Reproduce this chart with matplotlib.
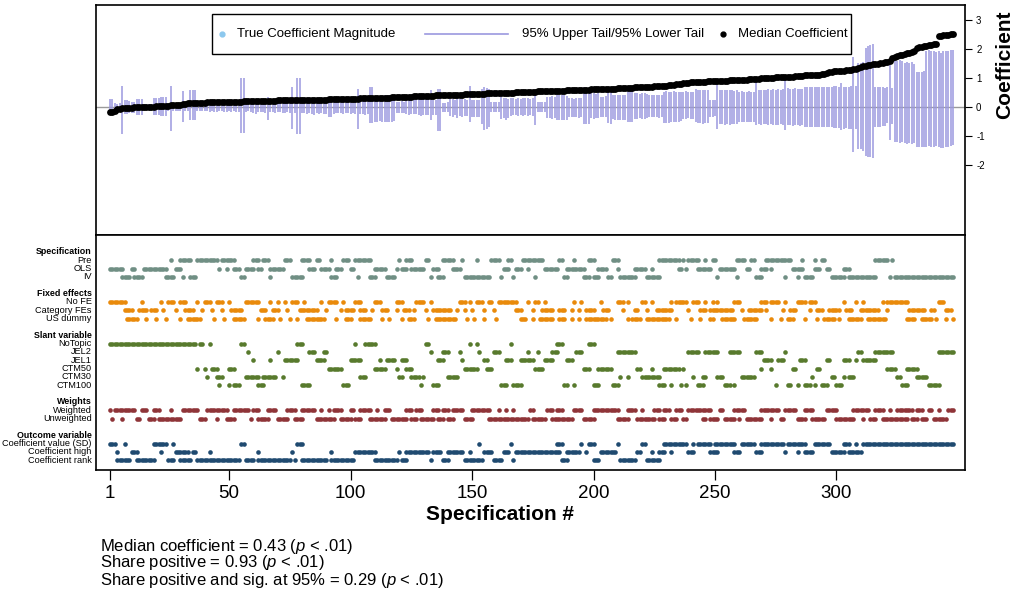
import matplotlib
matplotlib.use("Agg")
import matplotlib.pyplot as plt
import numpy as np
from matplotlib.patches import Rectangle
from matplotlib.lines import Line2D

plt.rcParams['font.family'] = ['Liberation Sans', 'DejaVu Sans']
plt.rcParams['mathtext.fontset'] = 'custom'
plt.rcParams['mathtext.rm'] = 'Liberation Sans'
plt.rcParams['mathtext.it'] = 'Liberation Sans:italic'
plt.rcParams['axes.unicode_minus'] = False

# median coefficient per specification (sorted)
median = [
    -0.17, -0.16, -0.12, -0.08, -0.05, -0.04, -0.03, -0.03, -0.02, -0.02,
    -0.01, -0.01, 0.00, 0.00, 0.01, 0.01, 0.02, 0.02, 0.02, 0.03,
    0.03, 0.04, 0.04, 0.05, 0.05, 0.06, 0.06, 0.07, 0.07, 0.08,
    0.10, 0.12, 0.13, 0.13, 0.14, 0.14, 0.14, 0.15, 0.15, 0.15,
    0.16, 0.16, 0.16, 0.17, 0.17, 0.17, 0.17, 0.18, 0.18, 0.18,
    0.18, 0.19, 0.19, 0.19, 0.19, 0.20, 0.20, 0.20, 0.20, 0.21,
    0.21, 0.21, 0.21, 0.21, 0.22, 0.22, 0.22, 0.22, 0.22, 0.23,
    0.23, 0.23, 0.23, 0.23, 0.23, 0.24, 0.24, 0.24, 0.24, 0.24,
    0.25, 0.25, 0.25, 0.25, 0.25, 0.26, 0.26, 0.26, 0.26, 0.26,
    0.27, 0.27, 0.27, 0.27, 0.27, 0.28, 0.28, 0.28, 0.28, 0.28,
    0.29, 0.29, 0.29, 0.30, 0.30, 0.30, 0.31, 0.31, 0.31, 0.31,
    0.32, 0.32, 0.32, 0.33, 0.33, 0.33, 0.34, 0.34, 0.34, 0.35,
    0.35, 0.35, 0.36, 0.36, 0.36, 0.37, 0.37, 0.37, 0.38, 0.38,
    0.38, 0.39, 0.39, 0.39, 0.40, 0.40, 0.40, 0.41, 0.41, 0.41,
    0.42, 0.42, 0.42, 0.43, 0.43, 0.43, 0.44, 0.44, 0.44, 0.45,
    0.45, 0.45, 0.46, 0.46, 0.46, 0.47, 0.47, 0.47, 0.48, 0.48,
    0.48, 0.49, 0.49, 0.49, 0.50, 0.50, 0.50, 0.51, 0.51, 0.51,
    0.52, 0.52, 0.52, 0.53, 0.53, 0.53, 0.54, 0.54, 0.54, 0.55,
    0.55, 0.55, 0.56, 0.56, 0.56, 0.57, 0.57, 0.57, 0.58, 0.58,
    0.58, 0.58, 0.59, 0.59, 0.59, 0.59, 0.60, 0.60, 0.61, 0.61,
    0.61, 0.62, 0.62, 0.62, 0.63, 0.63, 0.64, 0.64, 0.64, 0.65,
    0.65, 0.65, 0.66, 0.66, 0.67, 0.67, 0.68, 0.68, 0.69, 0.69,
    0.70, 0.70, 0.71, 0.71, 0.72, 0.72, 0.73, 0.73, 0.74, 0.74,
    0.75, 0.76, 0.77, 0.78, 0.79, 0.80, 0.82, 0.83, 0.84, 0.85,
    0.86, 0.87, 0.87, 0.88, 0.88, 0.88, 0.89, 0.89, 0.89, 0.90,
    0.90, 0.90, 0.91, 0.91, 0.91, 0.92, 0.92, 0.93, 0.93, 0.94,
    0.94, 0.95, 0.95, 0.96, 0.96, 0.97, 0.98, 0.98, 0.99, 1.00,
    1.01, 1.01, 1.02, 1.02, 1.03, 1.03, 1.04, 1.04, 1.04, 1.05,
    1.05, 1.05, 1.06, 1.06, 1.07, 1.08, 1.09, 1.09, 1.10, 1.10,
    1.11, 1.11, 1.12, 1.13, 1.15, 1.18, 1.21, 1.22, 1.23, 1.24,
    1.24, 1.25, 1.26, 1.27, 1.28, 1.29, 1.30, 1.33, 1.36, 1.39,
    1.41, 1.43, 1.45, 1.46, 1.47, 1.48, 1.49, 1.51, 1.53, 1.55,
    1.57, 1.59, 1.70, 1.74, 1.76, 1.78, 1.80, 1.82, 1.85, 1.87,
    1.90, 1.93, 2.04, 2.06, 2.08, 2.10, 2.12, 2.13, 2.15, 2.16,
    2.18, 2.44, 2.46, 2.48, 2.49, 2.50, 2.52, 2.53,
]

# 95% upper tail
upper = [
    0.28, 0.28, 0.13, 0.12, 0.14, 0.74, 0.24, 0.24, 0.20, 0.18,
    0.18, 0.28, 0.28, 0.28, 0.10, 0.10, 0.10, 0.10, 0.33, 0.33,
    0.33, 0.36, 0.36, 0.36, 0.10, 0.72, 0.13, 0.13, 0.13, 0.13,
    0.56, 0.15, 0.16, 0.59, 0.59, 0.59, 0.17, 0.16, 0.16, 0.15,
    0.15, 0.17, 0.16, 0.18, 0.17, 0.16, 0.19, 0.18, 0.17, 0.16,
    0.18, 0.17, 0.19, 0.18, 0.99, 0.99, 0.20, 0.18, 0.19, 0.21,
    0.20, 0.22, 0.21, 0.20, 0.22, 0.36, 0.22, 0.23, 0.20, 0.21,
    0.22, 0.24, 0.23, 0.25, 0.22, 0.68, 0.24, 0.99, 0.99, 0.25,
    0.24, 0.25, 0.23, 0.24, 0.26, 0.25, 0.24, 0.26, 0.25, 0.24,
    0.25, 0.24, 0.25, 0.26, 0.25, 0.26, 0.27, 0.25, 0.26, 0.27,
    0.27, 0.28, 0.64, 0.30, 0.29, 0.30, 0.28, 0.70, 0.70, 0.36,
    0.38, 0.36, 0.39, 0.41, 0.41, 0.41, 0.41, 0.40, 0.19, 0.18,
    0.20, 0.18, 0.26, 0.27, 0.26, 0.25, 0.27, 0.30, 0.31, 0.30,
    0.30, 0.29, 0.59, 0.24, 0.23, 0.64, 0.64, 0.15, 0.14, 0.16,
    0.27, 0.28, 0.26, 0.30, 0.27, 0.29, 0.28, 0.26, 0.74, 0.24,
    0.23, 0.25, 0.24, 0.61, 0.70, 0.66, 0.63, 0.18, 0.17, 0.19,
    0.18, 0.36, 0.30, 0.33, 0.28, 0.32, 0.30, 0.28, 0.31, 0.29,
    0.31, 0.30, 0.32, 0.29, 0.30, 0.41, 0.18, 0.19, 0.17, 0.18,
    0.36, 0.34, 0.37, 0.35, 0.41, 0.42, 0.40, 0.41, 0.39, 0.30,
    0.31, 0.29, 0.30, 0.32, 0.30, 0.68, 0.68, 0.66, 0.47, 0.48,
    0.46, 0.47, 0.36, 0.35, 0.37, 0.64, 0.64, 0.40, 0.41, 0.42,
    0.40, 0.42, 0.41, 0.59, 0.60, 0.58, 0.47, 0.48, 0.46, 0.47,
    0.48, 0.46, 0.41, 0.42, 0.40, 0.41, 0.43, 0.41, 0.53, 0.54,
    0.53, 0.52, 0.54, 0.53, 0.51, 0.53, 0.52, 0.54, 0.53, 0.52,
    0.53, 0.64, 0.58, 0.59, 0.60, 0.58, 0.59, 0.24, 0.25, 0.24,
    0.79, 0.58, 0.60, 0.59, 0.58, 0.60, 0.59, 0.57, 0.59, 0.53,
    0.54, 0.52, 0.53, 0.55, 0.53, 0.52, 0.91, 0.59, 0.60, 0.58,
    0.60, 0.61, 0.59, 0.62, 0.60, 0.61, 0.59, 0.62, 0.95, 0.65,
    0.64, 0.63, 0.65, 0.62, 0.64, 0.63, 0.70, 0.71, 0.69, 0.70,
    0.71, 0.69, 0.70, 0.71, 0.70, 0.70, 0.71, 0.70, 0.72, 0.72,
    0.71, 0.82, 0.70, 0.71, 0.70, 0.72, 1.74, 0.72, 1.53, 1.53,
    1.55, 2.05, 2.10, 2.14, 2.16, 0.70, 0.71, 0.69, 0.68, 0.67,
    0.68, 1.45, 0.66, 1.62, 1.60, 1.64, 1.58, 1.53, 1.55, 1.52,
    1.54, 1.50, 1.22, 1.20, 1.22, 1.23, 1.95, 1.96, 1.94, 1.95,
    1.90, 1.92, 1.88, 1.93, 1.95, 1.93, 1.96, 1.97,
]

# 95% lower tail
lower = [
    -0.24, -0.24, -0.16, -0.15, -0.16, -0.93, -0.24, -0.24, -0.22, -0.20,
    -0.20, -0.28, -0.28, -0.28, -0.10, -0.10, -0.10, -0.10, -0.28, -0.28,
    -0.28, -0.31, -0.31, -0.31, -0.12, -0.82, -0.13, -0.13, -0.13, -0.13,
    -0.51, -0.13, -0.14, -0.45, -0.45, -0.45, -0.15, -0.15, -0.14, -0.14,
    -0.15, -0.16, -0.14, -0.17, -0.18, -0.14, -0.15, -0.16, -0.17, -0.15,
    -0.16, -0.15, -0.17, -0.16, -0.91, -0.91, -0.17, -0.15, -0.18, -0.20,
    -0.24, -0.18, -0.17, -0.18, -0.19, -0.45, -0.18, -0.17, -0.19, -0.18,
    -0.18, -0.19, -0.20, -0.18, -0.19, -0.74, -0.20, -0.93, -0.93, -0.22,
    -0.22, -0.25, -0.20, -0.24, -0.27, -0.22, -0.25, -0.21, -0.24, -0.23,
    -0.33, -0.33, -0.23, -0.20, -0.22, -0.21, -0.24, -0.20, -0.22, -0.23,
    -0.22, -0.24, -0.77, -0.25, -0.24, -0.26, -0.24, -0.54, -0.54, -0.50,
    -0.50, -0.48, -0.52, -0.51, -0.51, -0.51, -0.51, -0.49, -0.20, -0.20,
    -0.21, -0.19, -0.24, -0.26, -0.23, -0.25, -0.24, -0.28, -0.29, -0.28,
    -0.28, -0.27, -0.45, -0.28, -0.27, -0.82, -0.82, -0.17, -0.16, -0.18,
    -0.30, -0.33, -0.28, -0.36, -0.30, -0.35, -0.32, -0.29, -0.51, -0.34,
    -0.33, -0.35, -0.34, -0.60, -0.78, -0.74, -0.70, -0.17, -0.16, -0.18,
    -0.17, -0.42, -0.38, -0.44, -0.36, -0.30, -0.28, -0.27, -0.29, -0.28,
    -0.29, -0.27, -0.30, -0.28, -0.29, -0.62, -0.17, -0.18, -0.16, -0.17,
    -0.39, -0.36, -0.40, -0.38, -0.45, -0.46, -0.44, -0.45, -0.43, -0.34,
    -0.35, -0.33, -0.34, -0.36, -0.33, -0.59, -0.60, -0.58, -0.39, -0.40,
    -0.39, -0.38, -0.34, -0.33, -0.35, -0.56, -0.57, -0.40, -0.45, -0.46,
    -0.44, -0.46, -0.45, -0.51, -0.52, -0.50, -0.40, -0.41, -0.39, -0.40,
    -0.40, -0.39, -0.34, -0.35, -0.33, -0.34, -0.36, -0.34, -0.56, -0.55,
    -0.56, -0.51, -0.52, -0.50, -0.51, -0.49, -0.40, -0.41, -0.39, -0.40,
    -0.41, -0.51, -0.55, -0.56, -0.57, -0.55, -0.56, -0.33, -0.34, -0.32,
    -0.74, -0.58, -0.60, -0.62, -0.58, -0.61, -0.59, -0.57, -0.60, -0.51,
    -0.51, -0.52, -0.50, -0.53, -0.51, -0.50, -0.62, -0.59, -0.61, -0.60,
    -0.60, -0.62, -0.59, -0.63, -0.61, -0.62, -0.60, -0.62, -0.79, -0.63,
    -0.63, -0.64, -0.62, -0.63, -0.64, -0.63, -0.68, -0.69, -0.67, -0.68,
    -0.69, -0.68, -0.70, -0.69, -0.68, -0.70, -0.69, -0.70, -0.71, -0.71,
    -0.71, -0.79, -0.74, -0.73, -0.74, -0.75, -1.54, -0.74, -1.43, -1.43,
    -1.50, -1.68, -1.71, -1.73, -1.74, -0.68, -0.70, -0.69, -0.65, -0.64,
    -0.56, -1.14, -0.58, -1.20, -1.22, -1.24, -1.21, -1.25, -1.26, -1.25,
    -1.26, -1.24, -1.38, -1.37, -1.39, -1.36, -1.36, -1.35, -1.37, -1.36,
    -1.35, -1.38, -1.40, -1.42, -1.36, -1.38, -1.33, -1.32,
]

# which specifications use each choice (runs of spec numbers, inclusive)
pre = [(26, 26), (30, 34), (37, 45), (47, 52), (60, 62), (64, 66), (73, 75), (80, 83), (86, 87), (92, 92),
       (97, 99), (102, 108), (120, 120), (123, 125), (131, 132), (138, 142), (146, 146), (152, 152),
       (158, 161), (165, 166), (171, 176), (177, 179), (186, 187), (192, 192), (198, 200), (208, 210),
       (227, 235), (237, 237), (239, 243), (246, 246), (249, 250), (259, 262), (265, 266), (271, 281),
       (286, 286), (291, 291), (294, 295), (316, 321), (323, 323)]
ols = [(1, 6), (10, 11), (15, 24), (28, 30), (46, 46), (49, 49), (52, 54), (57, 60), (62, 63), (67, 72),
       (83, 85), (88, 91), (94, 96), (100, 101), (110, 114), (119, 119), (121, 123), (125, 130), (134, 136),
       (142, 145), (163, 165), (168, 170), (173, 173), (180, 185), (189, 196), (202, 205), (210, 210),
       (217, 221), (224, 224), (235, 236), (238, 238), (243, 248), (252, 258), (263, 264), (269, 271),
       (273, 273), (282, 286), (291, 293), (296, 297), (303, 305)]
iv = [(6, 9), (11, 14), (24, 27), (31, 31), (34, 36), (55, 56), (67, 67), (76, 80), (92, 94), (103, 103),
      (108, 110), (115, 118), (133, 133), (136, 138), (147, 157), (162, 162), (167, 167), (176, 176),
      (188, 189), (196, 198), (200, 202), (206, 207), (211, 217), (222, 227), (251, 251), (259, 259),
      (267, 269), (279, 279), (284, 284), (287, 290), (298, 303), (305, 316), (322, 322), (324, 348)]

no_fe = [(1, 7), (14, 14), (22, 22), (25, 27), (30, 32), (37, 37), (40, 42), (45, 47), (50, 50), (57, 62),
         (67, 67), (70, 70), (73, 73), (76, 78), (81, 81), (88, 88), (91, 94), (97, 97), (102, 104),
         (110, 112), (119, 121), (127, 130), (133, 133), (145, 147), (149, 149), (152, 154), (157, 158),
         (161, 168), (173, 173), (176, 177), (180, 180), (192, 192), (195, 195), (203, 203), (210, 212),
         (214, 214), (220, 221), (224, 224), (232, 232), (234, 238), (241, 243), (246, 246), (249, 249),
         (251, 251), (258, 260), (269, 271), (273, 276), (279, 279), (284, 287), (289, 291), (303, 303),
         (308, 308), (311, 311), (319, 319), (321, 329), (342, 344)]
category_fe = [(7, 10), (13, 16), (18, 20), (23, 23), (28, 28), (32, 35), (39, 39), (43, 43), (47, 47),
               (51, 55), (63, 65), (68, 70), (74, 74), (79, 86), (90, 90), (96, 96), (98, 101), (104, 106),
               (109, 109), (113, 115), (119, 119), (122, 124), (126, 126), (131, 131), (134, 141), (144, 144),
               (147, 147), (150, 150), (155, 155), (159, 159), (168, 170), (175, 175), (179, 183), (186, 188),
               (191, 191), (194, 194), (197, 200), (204, 206), (212, 212), (217, 218), (222, 222), (226, 232),
               (239, 239), (244, 246), (248, 257), (261, 261), (264, 269), (271, 271), (278, 278), (281, 283),
               (289, 289), (292, 294), (297, 301), (304, 306), (310, 317), (321, 321), (330, 336), (339, 340),
               (345, 347)]
us_dummy = [(8, 12), (16, 16), (20, 20), (24, 24), (30, 30), (33, 38), (44, 44), (48, 48), (52, 56), (62, 62),
            (65, 68), (71, 71), (75, 75), (78, 78), (82, 89), (94, 94), (98, 100), (104, 108), (113, 113),
            (116, 116), (121, 121), (124, 126), (132, 132), (135, 143), (148, 148), (151, 151), (155, 155),
            (160, 160), (170, 172), (175, 175), (178, 183), (186, 188), (191, 191), (194, 194), (197, 205),
            (207, 207), (214, 214), (216, 219), (222, 231), (234, 234), (240, 240), (244, 244), (248, 249),
            (253, 258), (262, 267), (273, 273), (277, 277), (280, 282), (287, 287), (292, 292), (295, 299),
            (301, 301), (305, 310), (313, 320), (329, 332), (335, 339), (341, 341), (345, 345), (348, 348)]

no_topic = [(1, 36), (38, 39), (42, 42), (55, 56), (78, 80), (102, 102), (106, 110), (131, 132), (149, 149),
            (152, 152), (166, 166), (185, 187), (198, 200)]
jel2 = [(58, 58), (70, 70), (83, 85), (89, 90), (133, 133), (138, 140), (145, 145), (153, 153), (159, 161),
        (173, 173), (177, 177), (183, 185), (193, 195), (210, 217), (239, 243), (246, 251), (256, 260),
        (267, 269), (279, 279), (309, 310), (316, 323), (342, 348)]
jel1 = [(60, 60), (67, 67), (73, 78), (86, 89), (100, 104), (112, 112), (115, 118), (121, 123), (136, 138),
        (146, 146), (155, 156), (164, 166), (170, 175), (180, 183), (189, 191), (270, 273), (276, 278),
        (285, 287), (296, 297), (303, 305), (308, 308), (311, 316)]
ctm50 = [(37, 37), (40, 40), (43, 45), (50, 52), (91, 96), (110, 114), (119, 119), (123, 125), (147, 152),
         (156, 158), (176, 179), (196, 198), (202, 207), (218, 219), (224, 224), (229, 235), (237, 237),
         (269, 269), (273, 273), (282, 283), (292, 293), (321, 324), (329, 333)]
ctm30 = [(41, 41), (45, 47), (57, 62), (64, 69), (72, 72), (104, 106), (120, 121), (125, 128), (130, 130),
         (140, 144), (211, 211), (214, 214), (220, 227), (241, 241), (245, 246), (251, 253), (261, 266),
         (290, 290), (298, 299), (303, 303), (305, 307), (325, 326), (333, 337)]
ctm100 = [(46, 46), (50, 50), (52, 54), (62, 64), (80, 83), (97, 99), (129, 129), (134, 136), (162, 164),
          (167, 170), (188, 189), (192, 192), (200, 202), (208, 210), (227, 229), (232, 232), (236, 236),
          (238, 238), (243, 245), (254, 256), (258, 258), (275, 275), (280, 281), (284, 284), (287, 289),
          (291, 291), (294, 296), (300, 302), (327, 329), (338, 342)]

weighted = [(1, 1), (3, 11), (14, 16), (19, 21), (26, 26), (31, 37), (41, 49), (52, 58), (60, 62), (66, 69),
            (74, 77), (80, 85), (88, 88), (91, 91), (93, 96), (100, 101), (104, 108), (111, 111), (114, 116),
            (123, 125), (127, 129), (134, 136), (138, 140), (142, 146), (150, 157), (161, 161), (164, 164),
            (167, 167), (174, 175), (181, 183), (185, 187), (192, 195), (200, 210), (214, 217), (220, 220),
            (225, 227), (229, 231), (234, 236), (239, 248), (252, 253), (258, 262), (269, 276), (279, 283),
            (287, 290), (296, 300), (307, 313), (316, 319), (322, 322), (325, 331), (333, 335), (338, 339),
            (342, 342), (346, 348)]
unweighted = [(2, 2), (6, 6), (12, 13), (17, 19), (21, 30), (38, 40), (45, 45), (49, 52), (59, 59), (62, 66),
              (70, 74), (77, 80), (86, 93), (96, 100), (102, 104), (108, 114), (117, 123), (125, 127),
              (129, 134), (136, 138), (140, 142), (147, 150), (157, 173), (175, 180), (183, 191), (196, 200),
              (210, 214), (218, 225), (227, 229), (232, 234), (237, 238), (245, 246), (248, 251), (254, 258),
              (260, 260), (263, 269), (273, 273), (277, 278), (284, 287), (290, 295), (300, 307), (311, 311),
              (314, 316), (319, 329), (331, 333), (335, 337), (340, 345)]

coef_value = [(1, 3), (7, 7), (19, 24), (27, 27), (55, 56), (78, 80), (153, 153), (166, 166), (185, 187),
              (195, 195), (198, 200), (210, 210), (220, 221), (229, 238), (241, 241), (243, 248), (250, 258),
              (261, 266), (269, 278), (280, 287), (291, 297), (303, 305), (308, 308), (311, 348)]
coef_high = [(4, 4), (10, 12), (22, 22), (28, 33), (35, 36), (42, 42), (62, 62), (76, 76), (92, 92), (102, 110),
             (120, 120), (123, 132), (134, 137), (140, 146), (149, 149), (155, 158), (163, 165), (168, 186),
             (189, 194), (197, 197), (203, 209), (218, 219), (224, 224), (227, 229), (232, 232), (239, 241),
             (248, 251), (258, 260), (267, 269), (279, 279), (284, 284), (287, 290), (298, 303), (305, 310)]
coef_rank = [(4, 9), (12, 19), (25, 27), (30, 34), (37, 54), (57, 60), (62, 75), (77, 77), (80, 90), (92, 101),
             (110, 119), (121, 123), (133, 133), (138, 140), (147, 154), (159, 162), (167, 167), (187, 189),
             (200, 202), (211, 217), (222, 227)]

groups = [
    ("Specification", "#708f84", [("Pre", pre), ("OLS", ols), ("IV", iv)]),
    ("Fixed effects", "#e98a0b", [("No FE", no_fe), ("Category FEs", category_fe), ("US dummy", us_dummy)]),
    ("Slant variable", "#587a2d", [("NoTopic", no_topic), ("JEL2", jel2), ("JEL1", jel1),
                                   ("CTM50", ctm50), ("CTM30", ctm30), ("CTM100", ctm100)]),
    ("Weights", "#8f3438", [("Weighted", weighted), ("Unweighted", unweighted)]),
    ("Outcome variable", "#1f4a70", [("Coefficient value (SD)", coef_value), ("Coefficient high", coef_high),
                                     ("Coefficient rank", coef_rank)]),
]

W, H = 1016, 598
fig = plt.figure(figsize=(W / 100, H / 100), dpi=100)


def fx(px):
    return px / W


def fy(py):
    return 1 - py / H


ax1 = fig.add_axes([fx(96), fy(235), fx(965) - fx(96), fy(5) - fy(235)])
ax2 = fig.add_axes([fx(96), fy(470), fx(965) - fx(96), fy(235) - fy(470)])

x = np.arange(1, len(median) + 1)
xlim = (-4.76, 352.9)

# top panel
ax1.axhline(0, color="#9a9a9a", lw=1.0, zorder=1)
ax1.vlines(x, lower, upper, color="#9b98df", lw=1.1, zorder=2)
ax1.scatter(x, median, s=24, c="black", lw=0, zorder=3)
ax1.set_xlim(*xlim)
ax1.set_ylim(-4.41, 3.52)
ax1.set_xticks([])
ax1.yaxis.tick_right()
ax1.set_yticks([-2, -1, 0, 1, 2, 3])
ax1.tick_params(axis="y", direction="out", length=5, width=0.8, labelsize=7, pad=3)
for s in ax1.spines.values():
    s.set_linewidth(1.2)

fig.text(fx(1005), fy(65), "Coefficient", rotation=90, ha="center", va="center",
         fontsize=15, fontweight="bold")

# legend drawn as a box in figure space
fig.add_artist(Rectangle((fx(212), fy(54)), fx(851) - fx(212), fy(14) - fy(54),
                         transform=fig.transFigure, facecolor="white", edgecolor="black",
                         lw=1.0, zorder=5))
fig.add_artist(Line2D([fx(222)], [fy(34)], marker="o", ls="none", color="#8cc8ee",
                      markersize=3.5, transform=fig.transFigure, zorder=6))
fig.text(fx(237), fy(34), "True Coefficient Magnitude", fontsize=9.5, va="center", zorder=6)
fig.add_artist(Line2D([fx(425), fx(508)], [fy(34), fy(34)], color="#9b98df", lw=1.2,
                      transform=fig.transFigure, zorder=6))
fig.text(fx(522), fy(34), "95% Upper Tail/95% Lower Tail", fontsize=9.5, va="center", zorder=6)
fig.add_artist(Line2D([fx(723)], [fy(34)], marker="o", ls="none", color="black",
                      markersize=3.5, transform=fig.transFigure, zorder=6))
fig.text(fx(738), fy(34), "Median Coefficient", fontsize=9.5, va="center", zorder=6)

# bottom panel: indicator dots
lab_tr = ax2.get_yaxis_transform()
row = -1
for header, color, items in groups:
    ax2.text(-0.005, row, header, transform=lab_tr, ha="right", va="center",
             fontsize=6.4, fontweight="bold")
    row += 1
    for name, runs in items:
        specs = np.concatenate([np.arange(a, b + 1) for a, b in runs])
        ax2.scatter(specs, np.full(len(specs), row), s=11, c=color, lw=0)
        ax2.text(-0.005, row, name, transform=lab_tr, ha="right", va="center", fontsize=6.6)
        row += 1
    row += 1

ax2.set_xlim(*xlim)
ax2.set_ylim(25.17, -3.04)
ax2.set_yticks([])
ax2.set_xticks([1, 50, 100, 150, 200, 250, 300])
ax2.tick_params(axis="x", direction="out", length=7, width=0.9, labelsize=13.5, pad=4)
for s in ax2.spines.values():
    s.set_linewidth(1.2)

fig.text(fx(500), fy(514), "Specification #", ha="center", va="center",
         fontsize=15, fontweight="bold")

stats = [
    "Median coefficient = 0.43 ($\\mathit{p}$ < .01)",
    "Share positive = 0.93 ($\\mathit{p}$ < .01)",
    "Share positive and sig. at 95% = 0.29 ($\\mathit{p}$ < .01)",
]
for i, line in enumerate(stats):
    fig.text(fx(100), fy(546 + 17 * i), line, ha="left", va="center", fontsize=12)

fig.savefig("out.png", dpi=100)
